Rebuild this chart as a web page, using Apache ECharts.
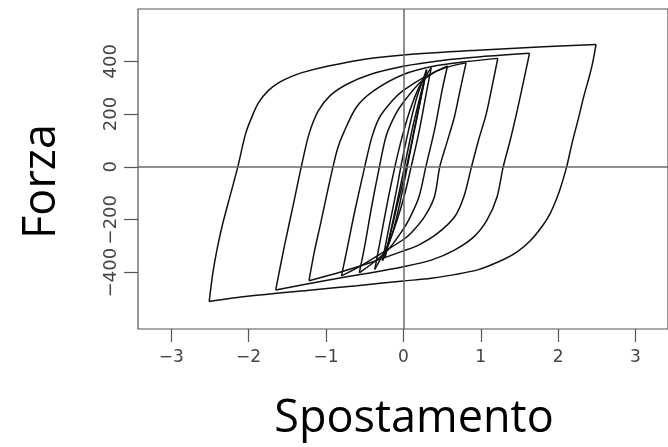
<!DOCTYPE html>
<html>
<head>
<meta charset="utf-8">
<script src="https://cdn.jsdelivr.net/npm/echarts@6/dist/echarts.min.js"></script>
<style>
html,body{margin:0;padding:0;background:#fff;}
#c{width:668px;height:447px;}
</style>
</head>
<body>
<div id="c"></div>
<script>
// Tick labels
const xTicks = [-3, -2, -1, 0, 1, 2, 3];
const yTicks = [-400, -200, 0, 200, 400];

// Hysteresis branches [Spostamento, Forza]
const loop1Up = [[-2.51,-510],[-2.46,-397],[-2.40,-300],[-2.34,-221],[-2.24,-110],[-2.14,0],[-2.04,125],[-1.95,195],[-1.87,244],[-1.75,288],[-1.61,319],[-1.45,342],[-1.31,357],[-0.97,382],[-0.50,408],[0,424],[0.96,442],[1.81,455],[2.49,464]];
const loop1Down = [[2.49,464],[2.45,400],[2.41,350],[2.33,265],[2.26,181],[2.18,90],[2.11,0],[2.03,-80],[1.98,-121],[1.90,-175],[1.81,-218],[1.64,-280],[1.47,-322],[1.30,-350],[0.96,-390],[0.36,-422],[0,-432],[-0.6,-450],[-1.18,-466],[-2.04,-491],[-2.51,-510]];
const loop2Up = [[-1.65,-466],[-1.54,-303],[-1.42,-139],[-1.32,0],[-1.22,124],[-1.10,212],[-0.95,269],[-0.73,313],[-0.43,350],[0,381],[0.5,403],[1.0,417],[1.63,430]];
const loop2Down = [[1.63,430],[1.55,320],[1.47,212],[1.38,100],[1.29,0],[1.21,-114],[1.08,-202],[0.91,-265],[0.66,-315],[0.36,-353],[0,-378],[-0.5,-405],[-1.0,-430],[-1.65,-466]];
const loop3Up = [[-1.22,-431],[-1.15,-320],[-1.07,-215],[-0.99,-105],[-0.91,0],[-0.85,70],[-0.78,124],[-0.61,225],[-0.39,287],[0,350],[0.4,382],[0.8,398],[1.22,411]];
const loop3Down = [[1.22,411],[1.15,310],[1.07,200],[0.97,100],[0.88,0],[0.78,-114],[0.66,-190],[0.44,-252],[0.19,-297],[0,-318],[-0.4,-360],[-0.8,-397],[-1.22,-431]];
const loop4Up = [[-0.80,-413],[-0.72,-300],[-0.63,-170],[-0.50,0],[-0.41,110],[-0.31,187],[-0.13,255],[0,290],[0.3,345],[0.55,376],[0.81,394]];
const loop4Down = [[0.81,394],[0.74,300],[0.66,190],[0.56,90],[0.47,0],[0.40,-114],[0.27,-190],[0.10,-250],[0,-275],[-0.3,-330],[-0.55,-375],[-0.80,-413]];
const loop5Up = [[-0.57,-401],[-0.50,-300],[-0.41,-150],[-0.31,0],[-0.22,120],[-0.10,200],[0,245],[0.2,315],[0.4,358],[0.57,382]];
const loop5Down = [[0.57,382],[0.50,290],[0.41,150],[0.29,0],[0.20,-115],[0.08,-195],[0,-235],[-0.2,-315],[-0.4,-365],[-0.57,-401]];
const loop6Up = [[-0.37,-388],[-0.30,-280],[-0.21,-140],[-0.11,0],[-0.02,110],[0.08,210],[0.2,300],[0.36,376]];
const loop6Down = [[0.36,376],[0.29,270],[0.20,130],[0.10,0],[0.02,-100],[-0.08,-200],[-0.2,-295],[-0.37,-388]];
const loop7Up = [[-0.27,-355],[-0.18,-220],[-0.09,-90],[-0.02,20],[0.06,130],[0.17,260],[0.30,368]];
const loop7Down = [[0.30,368],[0.22,250],[0.13,120],[0.05,0],[-0.04,-130],[-0.14,-250],[-0.27,-355]];
const loop8Up = [[-0.24,-345],[-0.12,-185],[0,-20],[0.12,150],[0.30,365]];
const loop8Down = [[0.30,365],[0.16,170],[0.04,0],[-0.10,-170],[-0.24,-345]];

const branches = [loop1Up, loop1Down, loop2Up, loop2Down, loop3Up, loop3Down, loop4Up, loop4Down,
                  loop5Up, loop5Down, loop6Up, loop6Down, loop7Up, loop7Down, loop8Up, loop8Down];

const minus = v => String(v).replace('-', '\u2212');

const series = branches.map((b, i) => ({
  type: 'line',
  data: b,
  showSymbol: false,
  smooth: 0.3,
  silent: true,
  animation: false,
  lineStyle: { color: '#111', width: 1.5 },
  markLine: i === 0 ? {
    silent: true,
    symbol: ['none', 'none'],
    label: { show: false },
    lineStyle: { color: '#6a6a6a', width: 1.5, type: 'solid' },
    data: [{ yAxis: 0 }, { xAxis: 0 }]
  } : undefined
}));

const chart = echarts.init(document.getElementById('c'), null, { renderer: 'canvas' });
chart.setOption({
  animation: false,
  backgroundColor: '#fff',
  grid: {
    show: true, left: 138, top: 9, width: 534, height: 322,
    borderColor: '#555', borderWidth: 1.2, backgroundColor: 'transparent'
  },
  xAxis: {
    type: 'value', min: -3.43, max: 3.42,
    name: 'Spostamento', nameLocation: 'middle', nameGap: 68,
    nameTextStyle: { fontFamily: 'Open Sans', fontSize: 45, color: '#000', padding: [0, 0, 0, 22] },
    axisLine: { show: false, onZero: false },
    axisTick: { show: true, length: 13, customValues: xTicks, lineStyle: { color: '#555', width: 1.2 } },
    axisLabel: { customValues: xTicks, formatter: minus, fontFamily: 'DejaVu Sans', fontSize: 17, color: '#444', margin: 20 },
    splitLine: { show: false }
  },
  yAxis: {
    type: 'value', min: -614, max: 598,
    name: 'Forza', nameLocation: 'middle', nameGap: 73,
    nameTextStyle: { fontFamily: 'Open Sans', fontSize: 45, color: '#000', padding: [0, 25, 0, 0] },
    axisLine: { show: false, onZero: false },
    axisTick: { show: true, length: 14, customValues: yTicks, lineStyle: { color: '#555', width: 1.2 } },
    axisLabel: { customValues: yTicks, rotate: 90, formatter: minus, fontFamily: 'DejaVu Sans', fontSize: 18, color: '#444', margin: 18 },
    splitLine: { show: false }
  },
  series: series
});
</script>
</body>
</html>
